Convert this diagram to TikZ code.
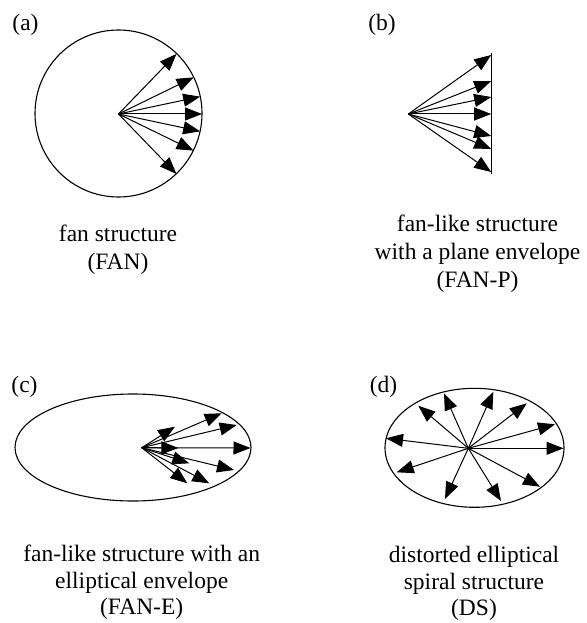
\documentclass[tikz,border=0pt]{standalone}
\usepackage{fontspec}
\setmainfont{Liberation Serif}
\usetikzlibrary{arrows.meta}
\begin{document}
\begin{tikzpicture}[x=1pt,y=-1pt,
  vec/.style={line width=1pt,-{Triangle[length=17pt,width=13pt]}},
  env/.style={line width=1.1pt},
  txt/.style={anchor=base,inner sep=0pt,font=\fontsize{23.5}{28}\selectfont}]
\useasboundingbox (0,0) rectangle (586,623);
% ---------- (a)
\node[txt] (la) at (25.5,31) {(a)};
\draw[env] (118.5,113.5) circle (83.5);
\coordinate (oa) at (118.5,114);
\foreach \a [count=\i] in {46,26,12,0,-12,-26,-46}
  \draw[vec] (oa) -- ++(\a:83.5) coordinate (ta\i);
\node[txt] (ca1) at (118,241.5) {fan structure};
\node[txt] (ca2) at (118,269) {(FAN)};
% ---------- (b)
\node[txt] (lb) at (382,31) {(b)};
\coordinate (bt) at (491.7,53.5);
\coordinate (bb) at (491.7,173.5);
\draw[env] (bt) -- (bb);
\coordinate (ob) at (408.3,114);
\foreach \y [count=\i] in {55,81,97,114,136,149,172}
  {\coordinate (tb\i) at (491.2,\y); \draw[vec] (ob) -- (tb\i);}
\node[txt] (cb1) at (477.5,231.5) {fan-like structure};
\node[txt] (cb2) at (477.5,259.5) {with a plane envelope};
\node[txt] (cb3) at (477.5,287) {(FAN-P)};
% ---------- (c)
\node[txt] (lc) at (24.5,392) {(c)};
\draw[env] (133,447.5) ellipse (118 and 53.5);
\coordinate (oc) at (141.7,447.7);
\foreach \x/\y [count=\i] in {175/426.7, 221.7/413.3, 236.7/425, 250.5/448, 178.3/448, 189.3/463.3, 234/470, 187.3/483.3, 209.3/483.3}
  {\coordinate (tc\i) at (\x,\y); \draw[vec] (oc) -- (tc\i);}
\node[txt] (cc1) at (141.7,561) {fan-like structure with an};
\node[txt] (cc2) at (141.7,588) {elliptical envelope};
\node[txt] (cc3) at (141.7,614) {(FAN-E)};
% ---------- (d)
\node[txt] (ld) at (383.5,392) {(d)};
\draw[env] (474.5,447.8) ellipse (89.5 and 59.5);
\coordinate (od) at (468.3,448.3);
\foreach \x/\y [count=\i] in {563.5/448.3, 555/424.3, 526.7/403.3, 493.3/391.7, 444/393.3, 418.3/405.7, 386/438.3, 396.7/472.3, 445/499, 501/501, 540/486.7}
  {\coordinate (td\i) at (\x,\y); \draw[vec] (od) -- (td\i);}
\node[txt] (cd1) at (474,562) {distorted elliptical};
\node[txt] (cd2) at (474,589) {spiral structure};
\node[txt] (cd3) at (474,615) {(DS)};
\end{tikzpicture}
\end{document}
